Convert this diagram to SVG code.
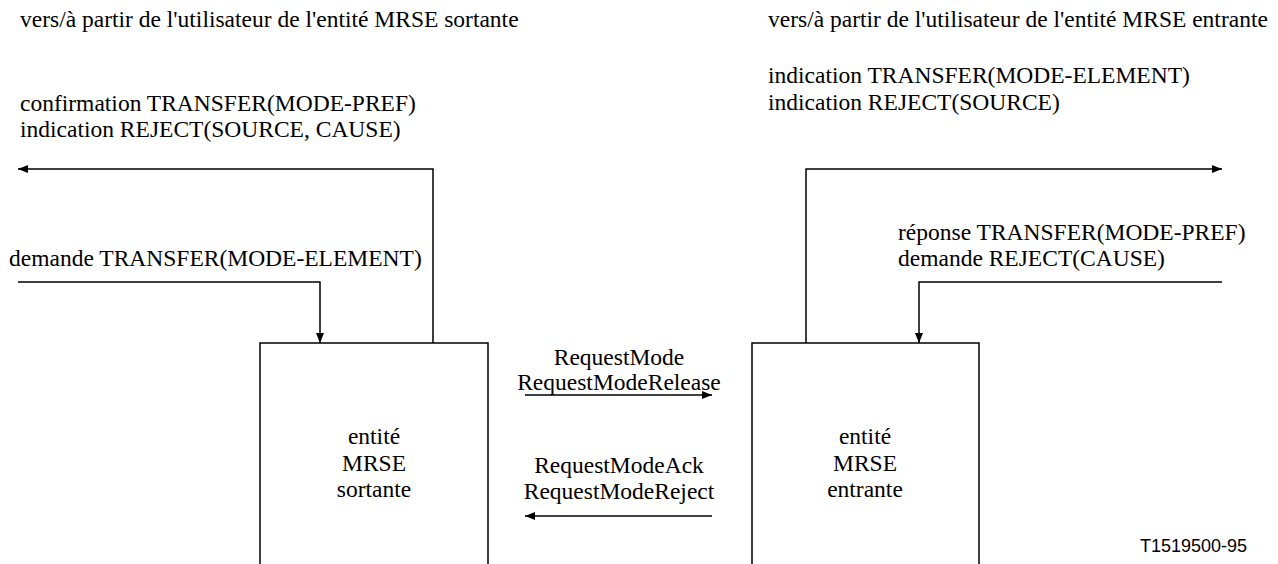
<svg xmlns="http://www.w3.org/2000/svg" width="1278" height="564" viewBox="0 0 1278 564">
<defs>
<style>
text.t{font-family:'Liberation Serif','Times New Roman',Times,serif;font-size:23.5px;fill:#000}
text.c{text-anchor:middle}
.ln{stroke:#000;stroke-width:1.5;fill:none}
.bx{stroke:#000;stroke-width:1.5;fill:none}
text.lab{font-family:'Liberation Sans',Arial,sans-serif;font-size:18px;fill:#000}
</style>
<marker id="ah" viewBox="0 0 10 8" refX="10" refY="4" markerWidth="10" markerHeight="8" markerUnits="userSpaceOnUse" orient="auto">
<path d="M0,0 L10,4 L0,8 Z" fill="#000"/>
</marker>
</defs>
<rect width="1278" height="564" fill="#fff"/>
<g id="headers" font-family="Liberation Serif, serif">
<text class="t" x="20" y="27">vers/à partir de l'utilisateur de l'entité MRSE sortante</text>
<text class="t" x="768" y="27">vers/à partir de l'utilisateur de l'entité MRSE entrante</text>
</g>
<g id="labels-left" font-family="Liberation Serif, serif">
<text class="t" x="20" y="111">confirmation TRANSFER(MODE-PREF)</text>
<text class="t" x="20" y="137">indication REJECT(SOURCE, CAUSE)</text>
<text class="t" x="9" y="266">demande TRANSFER(MODE-ELEMENT)</text>
</g>
<g id="labels-right" font-family="Liberation Serif, serif">
<text class="t" x="768" y="83">indication TRANSFER(MODE-ELEMENT)</text>
<text class="t" x="768" y="110">indication REJECT(SOURCE)</text>
<text class="t" x="898" y="240">réponse TRANSFER(MODE-PREF)</text>
<text class="t" x="898" y="266">demande REJECT(CAUSE)</text>
</g>
<g id="node-sortante" font-family="Liberation Serif, serif">
<path class="bx" d="M260,564 V343 H488 V564"/>
<text class="t c" x="374" y="444">entité</text>
<text class="t c" x="374" y="471">MRSE</text>
<text class="t c" x="374" y="497">sortante</text>
</g>
<g id="node-entrante" font-family="Liberation Serif, serif">
<path class="bx" d="M752,564 V343 H979 V564"/>
<text class="t c" x="865" y="444">entité</text>
<text class="t c" x="865" y="471">MRSE</text>
<text class="t c" x="865" y="497">entrante</text>
</g>
<g id="messages" font-family="Liberation Serif, serif">
<text class="t c" x="619" y="365">RequestMode</text>
<text class="t c" x="619" y="390">RequestModeRelease</text>
<text class="t c" x="619" y="473">RequestModeAck</text>
<text class="t c" x="619" y="499">RequestModeReject</text>
</g>
<g id="connectors">
<path class="ln" d="M433,343 V169 H18" marker-end="url(#ah)"/>
<path class="ln" d="M18,282 H320 V343" marker-end="url(#ah)"/>
<path class="ln" d="M806,343 V169 H1222" marker-end="url(#ah)"/>
<path class="ln" d="M1222,282 H919 V343" marker-end="url(#ah)"/>
<path class="ln" d="M525,395 H712" marker-end="url(#ah)"/>
<path class="ln" d="M712,516 H525" marker-end="url(#ah)"/>
</g>
<text class="lab" x="1140" y="552">T1519500-95</text>
</svg>
